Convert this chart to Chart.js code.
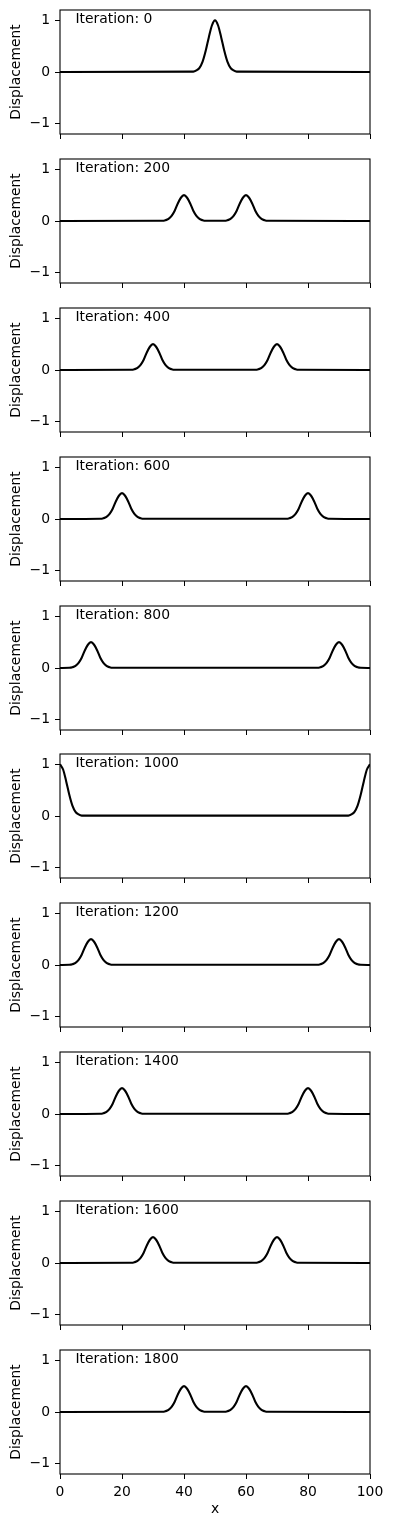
<!DOCTYPE html>
<html>
<head>
<meta charset="utf-8">
<script src="https://cdn.jsdelivr.net/npm/chart.js@4.4.1/dist/chart.umd.min.js"></script>
<style>
    html, body { margin: 0; padding: 0; background: #fff; }
    body { width: 393px; height: 1526px; position: relative; overflow: hidden; }
    .panel { position: absolute; left: 0; width: 393px; }
    .panel canvas { display: block; }
</style>
</head>
<body>
<script>
// Data
const iterations = [0, 200, 400, 600, 800, 1000, 1200, 1400, 1600, 1800];
const xTicks = [0, 20, 40, 60, 80, 100];
const yTicks = [-1, 0, 1];

const xIter0 = [0, 43, 44, 45, 46, 47, 48, 49, 50, 51, 52, 53, 54, 55, 56, 57, 100];
const yIter0 = [0, 0.007, 0.03, 0.08, 0.20, 0.41, 0.67, 0.90, 1.00, 0.90, 0.67, 0.41, 0.20, 0.08, 0.03, 0.007, 0];

const xIter200 = [0, 33, 34, 35, 36, 37, 38, 39, 40, 41, 42, 43, 44, 45, 46, 47,
    53, 54, 55, 56, 57, 58, 59, 60, 61, 62, 63, 64, 65, 66, 67, 100];
const yIter200 = [0, 0.004, 0.015, 0.04, 0.10, 0.20, 0.34, 0.45, 0.50, 0.45, 0.34, 0.20, 0.10, 0.04, 0.015, 0.004,
    0.004, 0.015, 0.04, 0.10, 0.20, 0.34, 0.45, 0.50, 0.45, 0.34, 0.20, 0.10, 0.04, 0.015, 0.004, 0];

const xIter400 = [0, 23, 24, 25, 26, 27, 28, 29, 30, 31, 32, 33, 34, 35, 36, 37,
    63, 64, 65, 66, 67, 68, 69, 70, 71, 72, 73, 74, 75, 76, 77, 100];
const yIter400 = [0, 0.004, 0.015, 0.04, 0.10, 0.20, 0.34, 0.45, 0.50, 0.45, 0.34, 0.20, 0.10, 0.04, 0.015, 0.004,
    0.004, 0.015, 0.04, 0.10, 0.20, 0.34, 0.45, 0.50, 0.45, 0.34, 0.20, 0.10, 0.04, 0.015, 0.004, 0];

const xIter600 = [0, 13, 14, 15, 16, 17, 18, 19, 20, 21, 22, 23, 24, 25, 26, 27,
    73, 74, 75, 76, 77, 78, 79, 80, 81, 82, 83, 84, 85, 86, 87, 100];
const yIter600 = [0, 0.004, 0.015, 0.04, 0.10, 0.20, 0.34, 0.45, 0.50, 0.45, 0.34, 0.20, 0.10, 0.04, 0.015, 0.004,
    0.004, 0.015, 0.04, 0.10, 0.20, 0.34, 0.45, 0.50, 0.45, 0.34, 0.20, 0.10, 0.04, 0.015, 0.004, 0];

const xIter800 = [0, 3, 4, 5, 6, 7, 8, 9, 10, 11, 12, 13, 14, 15, 16, 17,
    83, 84, 85, 86, 87, 88, 89, 90, 91, 92, 93, 94, 95, 96, 97, 100];
const yIter800 = [0, 0.004, 0.015, 0.04, 0.10, 0.20, 0.34, 0.45, 0.50, 0.45, 0.34, 0.20, 0.10, 0.04, 0.015, 0.004,
    0.004, 0.015, 0.04, 0.10, 0.20, 0.34, 0.45, 0.50, 0.45, 0.34, 0.20, 0.10, 0.04, 0.015, 0.004, 0];

const xIter1000 = [0, 1, 2, 3, 4, 5, 6, 7, 93, 94, 95, 96, 97, 98, 99, 100];
const yIter1000 = [1.00, 0.90, 0.67, 0.41, 0.20, 0.08, 0.03, 0.007, 0.007, 0.03, 0.08, 0.20, 0.41, 0.67, 0.90, 1.00];

const xIter1200 = [0, 3, 4, 5, 6, 7, 8, 9, 10, 11, 12, 13, 14, 15, 16, 17,
    83, 84, 85, 86, 87, 88, 89, 90, 91, 92, 93, 94, 95, 96, 97, 100];
const yIter1200 = [0, 0.004, 0.015, 0.04, 0.10, 0.20, 0.34, 0.45, 0.50, 0.45, 0.34, 0.20, 0.10, 0.04, 0.015, 0.004,
    0.004, 0.015, 0.04, 0.10, 0.20, 0.34, 0.45, 0.50, 0.45, 0.34, 0.20, 0.10, 0.04, 0.015, 0.004, 0];

const xIter1400 = [0, 13, 14, 15, 16, 17, 18, 19, 20, 21, 22, 23, 24, 25, 26, 27,
    73, 74, 75, 76, 77, 78, 79, 80, 81, 82, 83, 84, 85, 86, 87, 100];
const yIter1400 = [0, 0.004, 0.015, 0.04, 0.10, 0.20, 0.34, 0.45, 0.50, 0.45, 0.34, 0.20, 0.10, 0.04, 0.015, 0.004,
    0.004, 0.015, 0.04, 0.10, 0.20, 0.34, 0.45, 0.50, 0.45, 0.34, 0.20, 0.10, 0.04, 0.015, 0.004, 0];

const xIter1600 = [0, 23, 24, 25, 26, 27, 28, 29, 30, 31, 32, 33, 34, 35, 36, 37,
    63, 64, 65, 66, 67, 68, 69, 70, 71, 72, 73, 74, 75, 76, 77, 100];
const yIter1600 = [0, 0.004, 0.015, 0.04, 0.10, 0.20, 0.34, 0.45, 0.50, 0.45, 0.34, 0.20, 0.10, 0.04, 0.015, 0.004,
    0.004, 0.015, 0.04, 0.10, 0.20, 0.34, 0.45, 0.50, 0.45, 0.34, 0.20, 0.10, 0.04, 0.015, 0.004, 0];

const xIter1800 = [0, 33, 34, 35, 36, 37, 38, 39, 40, 41, 42, 43, 44, 45, 46, 47,
    53, 54, 55, 56, 57, 58, 59, 60, 61, 62, 63, 64, 65, 66, 67, 100];
const yIter1800 = [0, 0.004, 0.015, 0.04, 0.10, 0.20, 0.34, 0.45, 0.50, 0.45, 0.34, 0.20, 0.10, 0.04, 0.015, 0.004,
    0.004, 0.015, 0.04, 0.10, 0.20, 0.34, 0.45, 0.50, 0.45, 0.34, 0.20, 0.10, 0.04, 0.015, 0.004, 0];

const panelX = [xIter0, xIter200, xIter400, xIter600, xIter800, xIter1000, xIter1200, xIter1400, xIter1600, xIter1800];
const panelY = [yIter0, yIter200, yIter400, yIter600, yIter800, yIter1000, yIter1200, yIter1400, yIter1600, yIter1800];

// Layout (pixels)
const FIG_W = 393;
const FIG_H = 1526;
const PLOT_LEFT = 60;
const PLOT_RIGHT = 370;
const PLOT_H = 124;
const PAD_TOP = 10;
const panelTops = [10, 159, 308, 457, 606, 754, 903, 1052, 1201, 1350];

const FONT = { family: '"DejaVu Sans", sans-serif', size: 13.9 };

// Full box around each axes + the iteration label
const framePlugin = {
    id: 'frame',
    afterDraw(chart, args, opts) {
        const { ctx, chartArea: a, scales } = chart;
        ctx.save();
        ctx.strokeStyle = '#000';
        ctx.lineWidth = 1.1;
        ctx.strokeRect(a.left, a.top, a.right - a.left, a.bottom - a.top);
        ctx.fillStyle = '#000';
        ctx.font = `${FONT.size}px ${FONT.family}`;
        ctx.textAlign = 'left';
        ctx.textBaseline = 'alphabetic';
        ctx.fillText(opts.label, scales.x.getPixelForValue(5), scales.y.getPixelForValue(1) + 2.8);
        ctx.restore();
    }
};

function minusLabel(v) {
    return v < 0 ? '\u2212' + Math.abs(v) : String(v);
}

function makePanel(i) {
    const last = i === iterations.length - 1;
    const top = panelTops[i] - PAD_TOP;
    const h = last ? FIG_H - top : 148;

    const wrap = document.createElement('div');
    wrap.className = 'panel';
    wrap.style.top = top + 'px';
    wrap.style.height = h + 'px';
    const canvas = document.createElement('canvas');
    canvas.width = FIG_W;
    canvas.height = h;
    wrap.appendChild(canvas);
    document.body.appendChild(wrap);

    const xs = panelX[i];
    const ys = panelY[i];

    return new Chart(canvas, {
        type: 'line',
        data: {
            datasets: [{
                data: xs.map((x, j) => ({ x: x, y: ys[j] })),
                borderColor: '#000',
                borderWidth: 2.1,
                pointRadius: 0,
                fill: false,
                cubicInterpolationMode: 'monotone'
            }]
        },
        options: {
            responsive: false,
            animation: false,
            devicePixelRatio: 1,
            layout: { padding: { top: PAD_TOP, right: FIG_W - PLOT_RIGHT, left: 0, bottom: 0 } },
            plugins: {
                legend: { display: false },
                tooltip: { enabled: false },
                frame: { label: 'Iteration: ' + iterations[i] }
            },
            scales: {
                x: {
                    type: 'linear',
                    min: 0,
                    max: 100,
                    afterBuildTicks: s => { s.ticks = xTicks.map(v => ({ value: v })); },
                    afterFit: s => {
                        s.height = h - PAD_TOP - PLOT_H;
                        s.paddingLeft = 0;
                        s.paddingRight = 0;
                    },
                    border: { display: false },
                    grid: { drawOnChartArea: false, tickLength: 5, color: '#000', lineWidth: 1 },
                    ticks: { display: last, padding: 5, color: '#000', font: FONT, maxRotation: 0, autoSkip: false },
                    title: { display: last, text: 'x', color: '#000', font: FONT, padding: { top: 0, bottom: 8.5 } }
                },
                y: {
                    min: -1.2,
                    max: 1.2,
                    afterBuildTicks: s => { s.ticks = yTicks.map(v => ({ value: v })); },
                    afterFit: s => {
                        s.width = PLOT_LEFT;
                        s.paddingTop = 0;
                        s.paddingBottom = 0;
                    },
                    border: { display: false },
                    grid: { drawOnChartArea: false, tickLength: 5, color: '#000', lineWidth: 1 },
                    ticks: { padding: 5, color: '#000', font: FONT, callback: minusLabel },
                    title: { display: true, text: 'Displacement', color: '#000', font: FONT, padding: { top: 8.3, bottom: 0 } }
                }
            }
        },
        plugins: [framePlugin]
    });
}

iterations.forEach((it, i) => makePanel(i));
</script>
</body>
</html>
